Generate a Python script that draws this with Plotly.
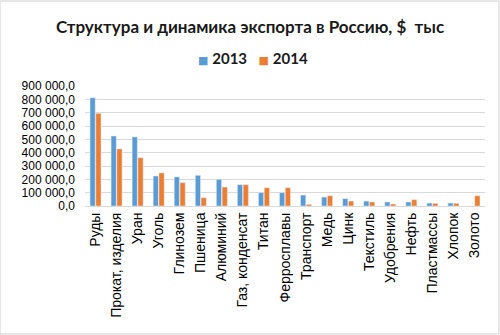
import plotly.graph_objects as go

categories = ["Руды", "Прокат, изделия", "Уран", "Уголь", "Глинозем", "Пшеница",
              "Алюминий", "Газ, конденсат", "Титан", "Ферросплавы", "Транспорт",
              "Медь", "Цинк", "Текстиль", "Удобрения", "Нефть", "Пластмассы",
              "Хлопок", "Золото"]
v2013 = [812000, 525000, 518000, 225000, 218000, 230000, 200000, 160000, 100000,
         100000, 82000, 67000, 55000, 37000, 30000, 30000, 22000, 22000, 0]
v2014 = [695000, 428000, 362000, 248000, 175000, 62000, 142000, 160000, 137000,
         137000, 12000, 77000, 37000, 30000, 15000, 47000, 20000, 20000, 77000]
tickvals = [0, 100000, 200000, 300000, 400000, 500000, 600000, 700000, 800000, 900000]
series_names = ["2013", "2014"]
colors = ["#5B9BD5", "#ED7D31"]

fig = go.Figure()
fig.add_trace(go.Bar(name=series_names[0], x=categories, y=v2013, marker_color=colors[0]))
fig.add_trace(go.Bar(name=series_names[1], x=categories, y=v2014, marker_color=colors[1]))

legend_text = "   ".join(
    f"<span style='color:{c}; font-family:DejaVu Sans; font-size:11px'>■</span> <b>{n}</b>"
    for n, c in zip(series_names, colors))

fig.update_layout(
    width=500, height=335,
    separators=", ",
    showlegend=False,
    paper_bgcolor="white", plot_bgcolor="white",
    margin=dict(l=85, r=15, t=86, b=129),
    title=dict(text="<b>Структура и динамика экспорта в Россию, $  тыс</b>",
               x=0.5, xanchor="center", y=0.918, yanchor="middle",
               font=dict(family="Lato", size=17, color="#1a1a1a")),
    annotations=[dict(text=legend_text, xref="paper", yref="paper",
                      x=(253 - 85) / 400, y=1 + (86 - 58) / 120,
                      xanchor="center", yanchor="middle", showarrow=False,
                      font=dict(family="Lato", size=15, color="#1a1a1a"))],
    barmode="group", bargap=0.45, bargroupgap=0.1,
    xaxis=dict(tickangle=-90, tickfont=dict(family="Liberation Sans", size=14, color="#000"),
               showline=True, linecolor="#d9d9d9", ticks=""),
    yaxis=dict(range=[0, 900000], tickvals=tickvals, tickformat=",.1f",
               tickfont=dict(family="Liberation Sans", size=12, color="#000"),
               gridcolor="#d9d9d9", zeroline=False, showline=False, ticklabelstandoff=9),
    shapes=[dict(type="rect", xref="paper", yref="paper", x0=-85/400, x1=1+14/400,
                 y0=-128/120, y1=1+85/120, line=dict(color="#d0d0d0", width=1))],
)
fig.write_html("out.html")
